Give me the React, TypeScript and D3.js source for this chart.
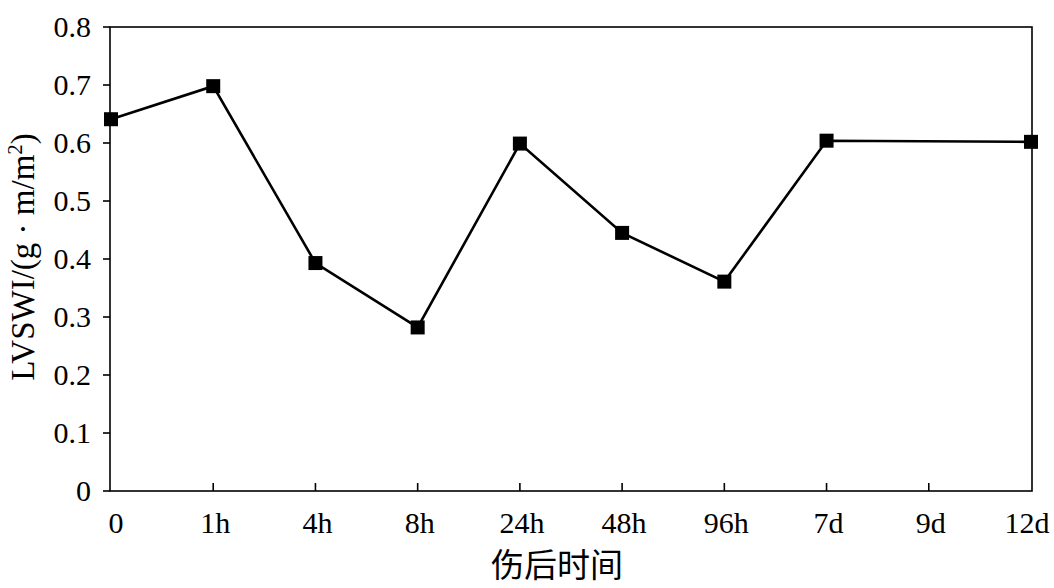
import React from "react";
import * as d3 from "d3";

const categories = ["0", "1h", "4h", "8h", "24h", "48h", "96h", "7d", "9d", "12d"];
const values: (number | null)[] = [0.641, 0.698, 0.393, 0.282, 0.599, 0.445, 0.361, 0.604, null, 0.602];
const yTicks = [0, 0.1, 0.2, 0.3, 0.4, 0.5, 0.6, 0.7, 0.8];
const yTickLabels = ["0", "0.1", "0.2", "0.3", "0.4", "0.5", "0.6", "0.7", "0.8"];
const xTitle = "伤后时间";

const W = 1054, H = 588;
const left = 110, right = 1032, top = 27, bottom = 491;
const serif = "'Liberation Serif', 'Times New Roman', serif";

export default function App() {
  const x = d3.scalePoint<string>().domain(categories).range([111, 1031]);
  const y = d3.scaleLinear().domain([0, 0.8]).range([bottom, top]);
  const pts = categories
    .map((c, i) => ({ c, v: values[i] }))
    .filter((d) => d.v !== null) as { c: string; v: number }[];
  const line = d3
    .line<{ c: string; v: number }>()
    .x((d) => x(d.c)!)
    .y((d) => y(d.v));
  const ms = 14;
  const last = categories.length - 1;
  return (
    <svg width={W} height={H} style={{ position: "absolute", left: 0, top: 0, background: "#fff" }}>
      <rect x={0} y={0} width={W} height={H} fill="#fff" />
      <rect x={left} y={top} width={right - left} height={bottom - top} fill="none" stroke="#000" strokeWidth={1.6} />
      {yTicks.map((t, i) => (
        <g key={"y" + i}>
          <line x1={left - 7} x2={left} y1={y(t)} y2={y(t)} stroke="#000" strokeWidth={1.6} />
          <text x={91} y={y(t) + 10} textAnchor="end" fontFamily={serif} fontSize={30} fill="#000">
            {yTickLabels[i]}
          </text>
        </g>
      ))}
      {categories.map((c, i) => (
        <g key={"x" + i}>
          {i > 0 && i < last && (
            <line x1={x(c)!} x2={x(c)!} y1={bottom} y2={bottom - 8} stroke="#000" strokeWidth={1.6} />
          )}
          <text
            x={x(c)! + (i === 0 ? 5 : i === last ? -4 : 2)}
            y={533}
            textAnchor="middle"
            fontFamily={serif}
            fontSize={30}
            fill="#000"
          >
            {c}
          </text>
        </g>
      ))}
      <path d={line(pts) || ""} fill="none" stroke="#000" strokeWidth={2.6} />
      {pts.map((d, i) => (
        <rect key={"m" + i} x={x(d.c)! - ms / 2} y={y(d.v) - ms / 2} width={ms} height={ms} fill="#000" />
      ))}
      <text x={557} y={577} textAnchor="middle" fontFamily="'Noto Sans CJK SC', sans-serif" fontSize={33} fill="#000">
        {xTitle}
      </text>
      <text
        transform={`translate(34, 257) rotate(-90)`}
        textAnchor="middle"
        fontFamily={serif}
        fontSize={33}
        fill="#000"
      >
        LVSWI/(g · m/m<tspan dy={-12} fontSize={21}>2</tspan><tspan dy={12}>)</tspan>
      </text>
    </svg>
  );
}
